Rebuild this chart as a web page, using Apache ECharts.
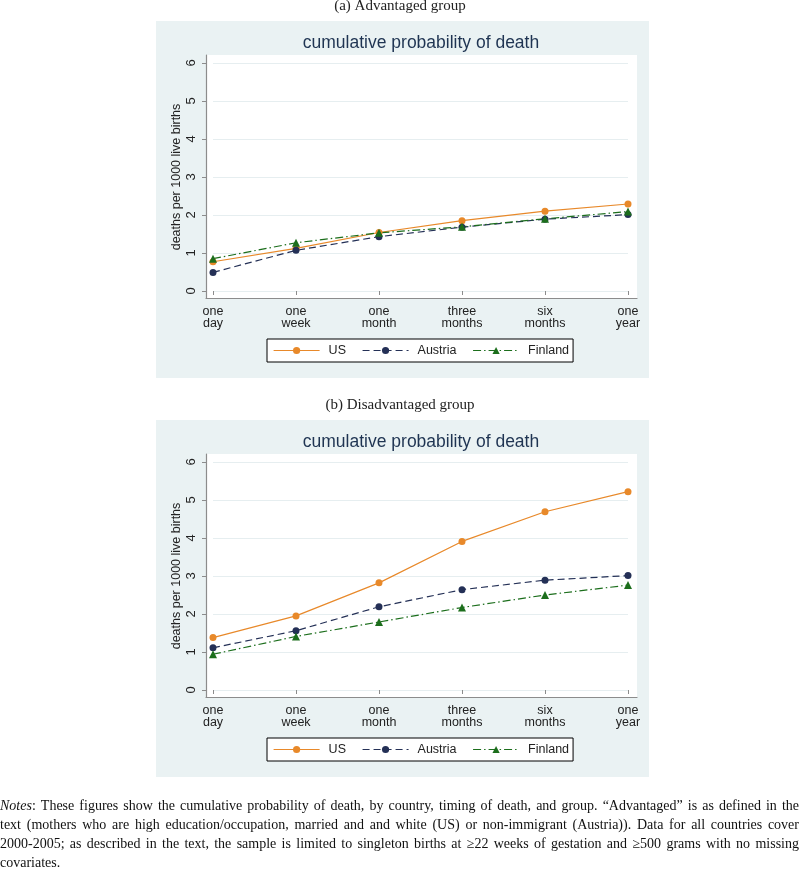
<!DOCTYPE html>
<html><head><meta charset="utf-8">
<script src="https://cdn.jsdelivr.net/npm/echarts@6/dist/echarts.min.js"></script>
<style>html,body{margin:0;padding:0;background:#fff}#c{width:800px;height:869px}</style>
</head><body><div id="c"></div><script>
// ---- data ----
const categories = ['one\nday', 'one\nweek', 'one\nmonth', 'three\nmonths', 'six\nmonths', 'one\nyear'];
const yTicks = [0, 1, 2, 3, 4, 5, 6];
const seriesNames = ['US', 'Austria', 'Finland'];
const advUS      = [0.77, 1.12, 1.54, 1.85, 2.10, 2.29];
const advAustria = [0.49, 1.07, 1.43, 1.68, 1.89, 2.01];
const advFinland = [0.85, 1.27, 1.53, 1.69, 1.90, 2.09];
const disUS      = [1.38, 1.95, 2.82, 3.91, 4.69, 5.22];
const disAustria = [1.11, 1.56, 2.19, 2.64, 2.89, 3.01];
const disFinland = [0.94, 1.41, 1.79, 2.17, 2.50, 2.76];
const panelTitles = ['(a) Advantaged group', '(b) Disadvantaged group'];
const chartTitle = 'cumulative probability of death';
const yName = 'deaths per 1000 live births';
const noteLines = [
  'Notes: These figures show the cumulative probability of death, by country, timing of death, and group. \u201cAdvantaged\u201d is as defined in the',
  'text (mothers who are high education/occupation, married and and white (US) or non-immigrant (Austria)). Data for all countries cover',
  '2000-2005; as described in the text, the sample is limited to singleton births at \u226522 weeks of gestation and \u2265500 grams with no missing',
  'covariates.'
];

// ---- style ----
const SANS = '"Liberation Sans", Arial, sans-serif';
const SERIF = '"Liberation Serif", "Times New Roman", serif';
const BG = '#eaf2f3';
const AXIS = '#8c8c8c';
const TXT = '#222222';
const colors = {US: '#e8892a', Austria: '#243056', Finland: '#1c6e1c'};
const styles = {
  US: {type: 'solid', symbol: 'circle', size: 7},
  Austria: {type: [7, 4], symbol: 'circle', size: 7},
  Finland: {type: [8, 3, 1.5, 3], symbol: 'triangle', size: 8}
};

const panels = [
  {dy: 0, data: {US: advUS, Austria: advAustria, Finland: advFinland}},
  {dy: 399, data: {US: disUS, Austria: disAustria, Finland: disFinland}}
];

const grid = [], xAxis = [], yAxis = [], series = [], legend = [], graphic = [];
panels.forEach((p, i) => {
  const dy = p.dy;
  // decorative plot region (white) grid
  grid.push({left: 206, top: 55 + dy, width: 431, height: 243, show: true, backgroundColor: '#ffffff', borderWidth: 0});
  // data grid
  grid.push({left: 213, top: 63 + dy, width: 415, height: 228, show: false});
  const gd = 2 * i, gv = 2 * i + 1;
  xAxis.push({gridIndex: gd, type: 'value', min: 0, max: 1, axisLine: {show: true, lineStyle: {color: AXIS, width: 1.2}},
    axisTick: {show: false}, axisLabel: {show: false}, splitLine: {show: false}});
  yAxis.push({gridIndex: gd, type: 'value', min: 0, max: 1, axisLine: {show: true, lineStyle: {color: AXIS, width: 1.2}},
    axisTick: {show: false}, axisLabel: {show: false}, splitLine: {show: false}});
  xAxis.push({gridIndex: gv, type: 'category', data: categories, boundaryGap: false, position: 'bottom', offset: 7,
    axisLine: {show: false}, axisTick: {show: true, length: 4, lineStyle: {color: AXIS}},
    axisLabel: {margin: 8, fontSize: 12.5, lineHeight: 12, color: TXT, fontFamily: SANS, interval: 0}, splitLine: {show: false}});
  yAxis.push({gridIndex: gv, type: 'value', min: yTicks[0], max: yTicks[yTicks.length - 1], interval: 1, offset: 7,
    axisLine: {show: false}, axisTick: {show: true, length: 4, lineStyle: {color: AXIS}},
    axisLabel: {rotate: 90, margin: 8, fontSize: 13, color: TXT, fontFamily: SANS},
    splitLine: {show: true, lineStyle: {color: '#e6eef0', width: 1}},
    name: yName, nameLocation: 'middle', nameRotate: 90, nameGap: 23, nameMoveOverlap: false,
    nameTextStyle: {fontSize: 12.5, color: TXT, fontFamily: SANS}});
  seriesNames.forEach(n => {
    series.push({
      name: n, type: 'line', xAxisIndex: gv, yAxisIndex: gv, data: p.data[n],
      symbol: styles[n].symbol, symbolSize: styles[n].size, showSymbol: true,
      itemStyle: {color: colors[n]},
      lineStyle: {color: colors[n], width: 1.2, type: styles[n].type},
      animation: false
    });
  });
  legend.push({data: seriesNames, left: 267, top: 339 + dy, orient: 'horizontal', padding: [5, 4, 5, 6],
    itemGap: 16, itemWidth: 46, itemHeight: 9, borderColor: '#000', borderWidth: 1, backgroundColor: '#fff',
    selectedMode: false, lineStyle: {width: 1.2},
    textStyle: {fontSize: 12.5, fontFamily: SANS, color: TXT, padding: [0, 0, 0, 4]}});
  // panel background
  graphic.push({type: 'rect', z: -10, shape: {x: 156, y: 21 + dy, width: 493, height: 357}, style: {fill: BG}});
  graphic.push({type: 'text', x: 400, y: 6 + dy, style: {text: panelTitles[i], font: '15px ' + SERIF, fill: TXT, align: 'center', verticalAlign: 'middle'}});
  graphic.push({type: 'text', x: 421, y: 43 + dy, style: {text: chartTitle, font: '17.5px ' + SANS, fill: '#1f3452', align: 'center', verticalAlign: 'middle'}});
});

// ---- notes (justified) ----
const NFS = 14;
const cv = document.createElement('canvas').getContext('2d');
const fontR = NFS + 'px ' + SERIF, fontI = 'italic ' + NFS + 'px ' + SERIF;
const noteY = [806, 825, 844, 863];
noteLines.forEach((line, li) => {
  const words = line.split(' ');
  const widths = words.map((w, wi) => {
    if (li === 0 && wi === 0) { cv.font = fontI; const a = cv.measureText('Notes').width; cv.font = fontR; return a + cv.measureText(':').width; }
    cv.font = fontR; return cv.measureText(w).width;
  });
  const total = widths.reduce((a, b) => a + b, 0);
  cv.font = fontR;
  const last = li === noteLines.length - 1;
  const gap = last ? cv.measureText(' ').width : (799 - total) / (words.length - 1);
  let x = 0;
  words.forEach((w, wi) => {
    if (li === 0 && wi === 0) {
      graphic.push({type: 'text', x: x, y: noteY[li], style: {text: '{i|Notes}:', font: fontR, fill: '#111', verticalAlign: 'middle',
        rich: {i: {fontStyle: 'italic', fontFamily: SERIF, fontSize: NFS, fill: '#111'}}}});
    } else {
      graphic.push({type: 'text', x: x, y: noteY[li], style: {text: w, font: fontR, fill: '#111', verticalAlign: 'middle'}});
    }
    x += widths[wi] + gap;
  });
});

const chart = echarts.init(document.getElementById('c'), null, {renderer: 'canvas'});
chart.setOption({animation: false, backgroundColor: '#fff', grid, xAxis, yAxis, series, legend, graphic});
</script></body></html>
